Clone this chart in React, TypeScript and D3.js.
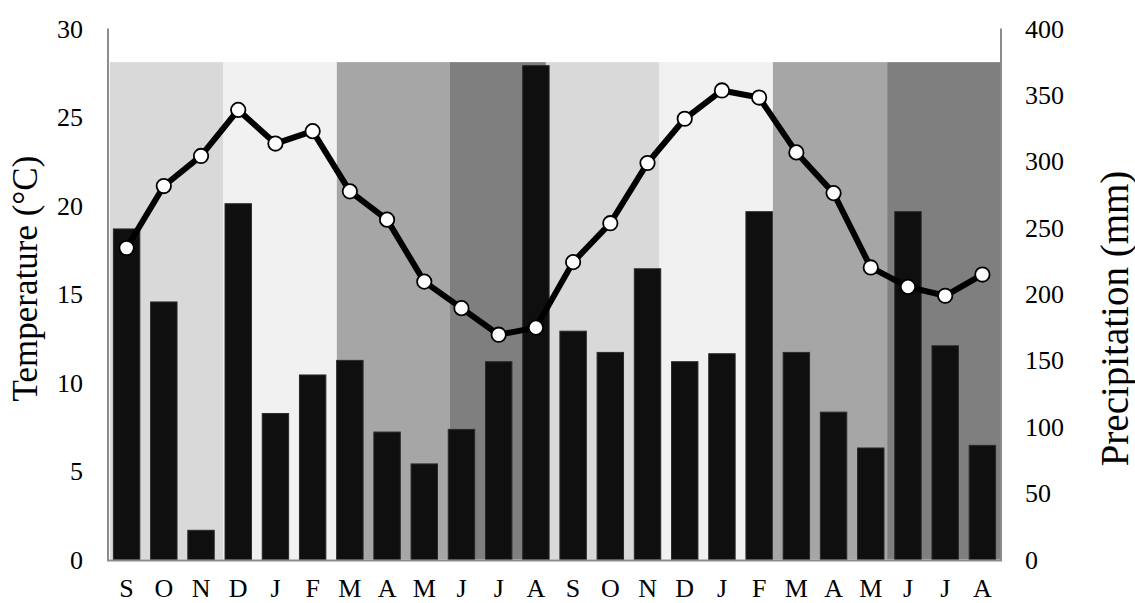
import React from "react";
import * as d3 from "d3";

const months = ["S","O","N","D","J","F","M","A","M","J","J","A","S","O","N","D","J","F","M","A","M","J","J","A"];
const precipitation = [249,194,22,268,110,139,150,96,72,98,149,372,172,156,219,149,155,262,156,111,84,262,161,86];
const temperature = [17.6,21.1,22.8,25.4,23.5,24.2,20.8,19.2,15.7,14.2,12.7,13.1,16.8,19.0,22.4,24.9,26.5,26.1,23.0,20.7,16.5,15.4,14.9,16.1];
const tempTicks = [0,5,10,15,20,25,30];
const precipTicks = [0,50,100,150,200,250,300,350,400];
// season background bands, in month-index units
const seasonNames = ["SON","DJF","MAM","JJA","SON","DJF","MAM","JJA"];
const seasonStarts = [0.05,3.09,6.15,9.19,11.77,14.81,17.87,20.94];
const seasonEnds = [3.09,6.15,9.19,11.77,14.81,17.87,20.94,24];
const seasonColors: Record<string,string> = { SON: "#d9d9d9", DJF: "#f1f1f1", MAM: "#a6a6a6", JJA: "#7f7f7f" };
const seasonTop = 28.1;

const W = 1135, H = 603;
const X0 = 108, X1 = 1001, YTOP = 28.5, YBOT = 559.5;
const FONT = "'Liberation Serif', 'Times New Roman', serif";

export default function App() {
  const xb = d3.scaleBand<number>().domain(d3.range(months.length)).range([X0, X1]).padding(0);
  const xl = d3.scaleLinear().domain([0, months.length]).range([X0, X1]);
  const yT = d3.scaleLinear().domain([0, 30]).range([YBOT, YTOP]);
  const yP = d3.scaleLinear().domain([0, 400]).range([YBOT, YTOP]);
  const bw = xb.bandwidth() * 0.71;
  const cx = (i: number) => (xb(i) as number) + xb.bandwidth() / 2;
  const line = d3.line<number>().x((_, i) => cx(i)).y((d) => yT(d));

  return (
    <svg width={W} height={H} style={{ position: "absolute", left: 0, top: 0, background: "#fff" }} fontFamily={FONT}>
      {seasonNames.map((s, i) => (
        <rect key={"s" + i} x={xl(seasonStarts[i])} y={yT(seasonTop)} width={xl(seasonEnds[i]) - xl(seasonStarts[i])} height={YBOT - yT(seasonTop)} fill={seasonColors[s]} />
      ))}
      {precipitation.map((p, i) => (
        <rect key={"b" + i} x={cx(i) - bw / 2} y={yP(p)} width={bw} height={YBOT - yP(p)} fill="#0f0f0f" stroke="#2a2a2a" strokeWidth={1} />
      ))}
      <line x1={X0} x2={X0} y1={YTOP} y2={YBOT + 1} stroke="#8c8c8c" strokeWidth={2} />
      <line x1={X1} x2={X1} y1={YTOP} y2={YBOT + 1} stroke="#8c8c8c" strokeWidth={2} />
      <line x1={X0 - 1} x2={X1 + 1} y1={YBOT + 1} y2={YBOT + 1} stroke="#8c8c8c" strokeWidth={2} />
      <path d={line(temperature) || ""} fill="none" stroke="#000" strokeWidth={6} strokeLinejoin="round" />
      {temperature.map((t, i) => (
        <circle key={"c" + i} cx={cx(i)} cy={yT(t)} r={7.2} fill="#fff" stroke="#000" strokeWidth={1.8} />
      ))}
      {tempTicks.map((t) => (
        <text key={"tt" + t} x={83} y={yT(t)} dy="0.35em" textAnchor="end" fontSize={26} fill="#000">{t}</text>
      ))}
      {precipTicks.map((p) => (
        <text key={"pt" + p} x={1025} y={yP(p)} dy="0.35em" textAnchor="start" fontSize={26} fill="#000">{p}</text>
      ))}
      {months.map((m, i) => (
        <text key={"m" + i} x={cx(i)} y={597} textAnchor="middle" fontSize={26} fill="#000">{m}</text>
      ))}
      <text transform={`translate(37,278.5) rotate(-90)`} textAnchor="middle" fontSize={35} fill="#000">Temperature (°C)</text>
      <text transform={`translate(1128,318.5) rotate(-90)`} textAnchor="middle" fontSize={39} fill="#000">Precipitation (mm)</text>
    </svg>
  );
}
